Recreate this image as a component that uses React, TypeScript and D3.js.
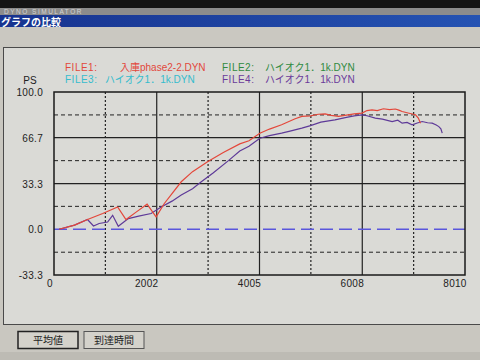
import { useEffect } from 'react';
import * as d3 from 'd3';

// 回転数 (rpm) と出力 (PS)
const file1Rpm = [100, 400, 653, 950, 1240, 1403, 1600, 1814, 1990, 2150, 2300, 2480, 2700, 3000, 3300, 3620, 3800, 4012, 4200, 4436, 4700, 4830, 5000, 5150, 5284, 5400, 5546, 5700, 5850, 6003, 6100, 6198, 6300, 6420, 6540, 6654, 6720, 6785, 6900, 7045, 7100, 7143];
const file1Ps = [0, 3.0, 7.1, 11.5, 16.3, 7.1, 12.5, 18.3, 9.0, 18.8, 26, 34.6, 42, 49.3, 56, 62.2, 64.5, 70.0, 73, 76.1, 80.5, 82.2, 82.6, 83.8, 84.1, 83.0, 82.2, 83.2, 84.0, 84.6, 86.5, 87.0, 86.4, 87.8, 87.2, 87.6, 86.8, 85.8, 84.7, 83.4, 81, 77.3];

const file4Rpm = [100, 400, 653, 770, 880, 1045, 1143, 1253, 1448, 1650, 1892, 2088, 2300, 2480, 2700, 2871, 3100, 3400, 3620, 3800, 4012, 4200, 4436, 4600, 4830, 5000, 5200, 5475, 5700, 5850, 6003, 6100, 6262, 6400, 6590, 6700, 6785, 6880, 6980, 7080, 7175, 7280, 7371, 7450, 7500, 7540, 7566];
const file4Ps = [0, 3.0, 7.1, 2.4, 4.2, 5.3, 10.2, 2.2, 7.8, 9.6, 11.5, 16.3, 20.5, 24.9, 29.5, 34.6, 41, 50, 57, 60.5, 66.3, 68.2, 70.0, 71.5, 73.7, 75.5, 78.0, 79.7, 81.5, 82.6, 83.4, 82.7, 81.0, 80.2, 78.5, 79.5, 77.3, 77.8, 76.1, 77.4, 78.5, 77.6, 77.3, 76.0, 74.8, 73.2, 70.0];

// ゼロ線 (FILE2/FILE3 相当)
const zeroRpm = [0, 8010];
const zeroPs = [0, 0];

const xTicks = [0, 2002, 4005, 6008, 8010];
const xMinorTicks = [1001, 3003, 5006, 7009];
const yTicks = [100.0, 66.7, 33.3, 0.0, -33.3];
const yDashed = [83.3, 50.0, 16.7, -16.7];
const ySolid = [66.7, 33.3];

const legendNames = ['FILE1:', 'FILE2:', 'FILE3:', 'FILE4:'];
const legendFiles = ['入庫phase2-2.DYN', 'ハイオク1．1k.DYN', 'ハイオク1．1k.DYN', 'ハイオク1．1k.DYN'];
const legendColors = ['#e2483c', '#2f8a3e', '#35bccd', '#6a3a9a'];

const buttons = ['平均値', '到達時間'];

const W = 480;
const H = 360;
const plot = { left: 54, right: 465, top: 92, bottom: 275 };
const font = '"Liberation Sans", Arial, sans-serif';

function zip(xs: number[], ys: number[]) {
  return xs.map((x, i) => [x, ys[i]] as [number, number]);
}

export default function App() {
  useEffect(() => {
    document.body.style.margin = '0';
  }, []);

  const x = d3.scaleLinear().domain([0, 8010]).range([plot.left, plot.right]);
  const y = d3.scaleLinear().domain([-33.3, 100]).range([plot.bottom, plot.top]);

  const line = d3.line<[number, number]>()
    .x(d => x(d[0]))
    .y(d => y(d[1]));

  return (
    <svg width={W} height={H} style={{ display: 'block' }} fontFamily={font}>
      <defs>
        <linearGradient id="bar" x1="0" x2="1" y1="0" y2="0">
          <stop offset="0" stopColor="#17338f" />
          <stop offset="1" stopColor="#2553b3" />
        </linearGradient>
        <clipPath id="plotClip">
          <rect x={plot.left} y={plot.top} width={plot.right - plot.left} height={plot.bottom - plot.top} />
        </clipPath>
      </defs>

      {/* 画面の枠 */}
      <rect x={0} y={0} width={W} height={H} fill="#c9c7c0" />
      <rect x={0} y={0} width={W} height={8} fill="#141414" />
      <rect x={0} y={8} width={W} height={7} fill="#8c8c8c" />
      <text x={4} y={13.5} fontSize={6.5} fill="#d4d4d4" letterSpacing={1.5}>DYNO SIMULATOR</text>
      <rect x={0} y={15} width={W} height={12} fill="url(#bar)" />
      <text x={1} y={25.5} fontSize={10} fontWeight="bold" fill="#ffffff"
        fontFamily='"Noto Sans CJK JP", sans-serif'>グラフの比較</text>
      <rect x={0} y={27} width={W} height={18} fill="#cac8c1" />

      {/* パネル */}
      <rect x={3.5} y={47.5} width={W} height={277} fill="#dadad6" stroke="#4a4a4a" strokeWidth={1} />

      {/* 凡例 */}
      {legendNames.map((name, i) => {
        const col = i % 2;
        const row = Math.floor(i / 2);
        const lx = col === 0 ? 65 : 222;
        const fx = col === 0 ? (i === 0 ? 120 : 105) : 265;
        const ly = 71 + row * 12;
        return (
          <g key={name} fill={legendColors[i]} fontSize={10}>
            <text x={lx} y={ly} letterSpacing={0.5}>{name}</text>
            <text x={fx} y={ly} fontFamily={`${font}, "Noto Sans CJK JP"`}>{legendFiles[i]}</text>
          </g>
        );
      })}

      {/* グリッド */}
      <g fill="none">
        {yDashed.map(v => (
          <line key={'hd' + v} x1={plot.left} x2={plot.right} y1={y(v)} y2={y(v)}
            stroke="#222" strokeWidth={1} strokeDasharray="4,3" />
        ))}
        {ySolid.map(v => (
          <line key={'hs' + v} x1={plot.left} x2={plot.right} y1={y(v)} y2={y(v)}
            stroke="#222" strokeWidth={1.2} />
        ))}
        {xMinorTicks.map(v => (
          <line key={'vd' + v} x1={x(v)} x2={x(v)} y1={plot.top} y2={plot.bottom}
            stroke="#222" strokeWidth={1.2} strokeDasharray="2,2" />
        ))}
        {xTicks.slice(1, -1).map(v => (
          <line key={'vs' + v} x1={x(v)} x2={x(v)} y1={plot.top} y2={plot.bottom}
            stroke="#222" strokeWidth={1.2} />
        ))}
      </g>

      {/* 曲線 */}
      <g clipPath="url(#plotClip)" fill="none">
        <path d={line(zip(zeroRpm, zeroPs)) || ''} stroke="#5a56dc" strokeWidth={1.5} strokeDasharray="13,6" />
        <path d={line(zip(file4Rpm, file4Ps)) || ''} stroke="#5e3a98" strokeWidth={1.2} />
        <path d={line(zip(file1Rpm, file1Ps)) || ''} stroke="#e4473a" strokeWidth={1.2} />
      </g>

      <rect x={plot.left} y={plot.top} width={plot.right - plot.left} height={plot.bottom - plot.top}
        fill="none" stroke="#1a1a1a" strokeWidth={1.5} />

      {/* 軸ラベル */}
      <text x={30} y={84} fontSize={10} fill="#222" textAnchor="middle">PS</text>
      {yTicks.map(v => (
        <text key={'yl' + v} x={43} y={y(v) + 4} fontSize={10} fill="#222" textAnchor="end" letterSpacing={0.3}>
          {v.toFixed(1)}
        </text>
      ))}
      {xTicks.map((v, i) => (
        <text key={'xl' + v} x={i === 0 ? x(v) - 4 : x(v) - 10} y={287} fontSize={10} fill="#222"
          textAnchor="middle" letterSpacing={0.3}>
          {v}
        </text>
      ))}

      {/* ボタン */}
      {buttons.map((b, i) => {
        const bx = 18 + i * 66;
        return (
          <g key={b}>
            <rect x={bx} y={331.5} width={60} height={17} fill="#d4d2cb" stroke={i === 0 ? '#222' : '#555'} strokeWidth={i === 0 ? 1.5 : 1} />
            <text x={bx + 30} y={344} fontSize={10} fill="#222" textAnchor="middle"
              fontFamily='"Noto Sans CJK JP", sans-serif'>{b}</text>
          </g>
        );
      })}
      <rect x={0} y={352} width={W} height={8} fill="#bdbbb4" />
    </svg>
  );
}
